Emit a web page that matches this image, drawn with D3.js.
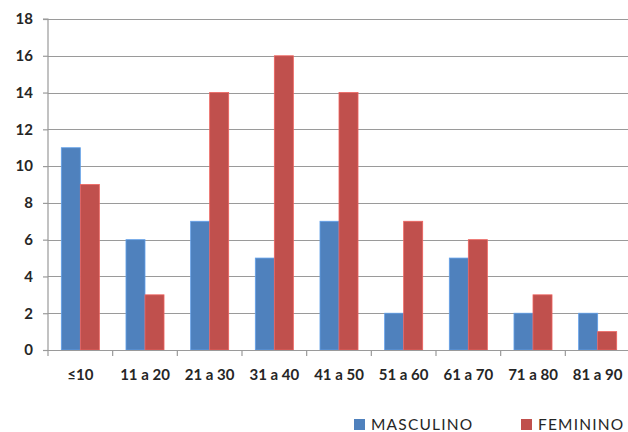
<!DOCTYPE html>
<html>
<head>
<meta charset="utf-8">
<script src="https://cdn.jsdelivr.net/npm/d3@7"></script>
<style>
  html, body { margin: 0; padding: 0; background: #fff; overflow: hidden; }
  svg { display: block; }
</style>
</head>
<body>
<svg id="chart" width="628" height="432"></svg>
<script>
// Age groups and counts per sex
const categories = ["≤10", "11 a 20", "21 a 30", "31 a 40", "41 a 50", "51 a 60", "61 a 70", "71 a 80", "81 a 90"];
const seriesNames = ["MASCULINO", "FEMININO"];
const masculino = [11, 6, 7, 5, 7, 2, 5, 2, 2];
const feminino = [9, 3, 14, 16, 14, 7, 6, 3, 1];
const yTicks = [0, 2, 4, 6, 8, 10, 12, 14, 16, 18];

const colors = { MASCULINO: "#4f81bd", FEMININO: "#c0504d" };
const values = { MASCULINO: masculino, FEMININO: feminino };

const svg = d3.select("#chart");
const W = 628, H = 432;
const plot = { left: 48, right: 630, top: 19, bottom: 350 };
const font = "Lato, 'Open Sans', sans-serif";

const x = d3.scaleBand().domain(categories).range([plot.left, plot.right]).paddingInner(0).paddingOuter(0);
const inner = d3.scaleBand().domain(seriesNames).range([0, x.bandwidth()]).paddingInner(0).paddingOuter(0.7);
const y = d3.scaleLinear().domain([0, 18]).range([plot.bottom, plot.top]);

// Horizontal gridlines
svg.append("g")
  .selectAll("line")
  .data(yTicks.filter(d => d > 0))
  .join("line")
  .attr("x1", plot.left).attr("x2", W)
  .attr("y1", d => Math.round(y(d)) + 0.5).attr("y2", d => Math.round(y(d)) + 0.5)
  .attr("stroke", "#9a9a9a").attr("stroke-width", 1.2);

// Bars
const groups = svg.append("g")
  .selectAll("g")
  .data(categories)
  .join("g")
  .attr("transform", d => `translate(${x(d)},0)`);

groups.selectAll("rect")
  .data((c, i) => seriesNames.map(s => ({ s, v: values[s][i] })))
  .join("rect")
  .attr("x", d => inner(d.s))
  .attr("width", inner.bandwidth())
  .attr("y", d => y(d.v))
  .attr("height", d => y(0) - y(d.v))
  .attr("fill", d => colors[d.s])
  .attr("stroke", d => d3.color(colors[d.s]).brighter(0.6))
  .attr("stroke-width", 0.8);

// Y axis
const yAxis = d3.axisLeft(y).tickValues(yTicks).tickSize(5).tickPadding(10).tickFormat(d3.format("d"));
const gy = svg.append("g").attr("transform", `translate(${plot.left},0)`).call(yAxis);
gy.select(".domain").attr("stroke", "#9a9a9a").attr("stroke-width", 1.2).attr("d", `M-5,${plot.top}H0V${plot.bottom}`);
gy.selectAll(".tick line").attr("stroke", "#9a9a9a").attr("stroke-width", 1.2);
gy.selectAll(".tick text")
  .attr("fill", "#262626")
  .style("font-family", font).style("font-size", "15px").style("font-weight", "bold");

// X axis with ticks at band boundaries
const gx = svg.append("g").attr("transform", `translate(0,${plot.bottom})`);
gx.append("line")
  .attr("x1", plot.left - 5).attr("x2", W)
  .attr("y1", 0.5).attr("y2", 0.5)
  .attr("stroke", "#9a9a9a").attr("stroke-width", 1.2);
gx.selectAll("line.tick")
  .data(categories.map(c => x(c)).concat([x(categories[categories.length - 1]) + x.bandwidth()]))
  .join("line")
  .attr("class", "tick")
  .attr("x1", d => d).attr("x2", d => d)
  .attr("y1", 0).attr("y2", 6)
  .attr("stroke", "#9a9a9a").attr("stroke-width", 1.2);
gx.selectAll("text")
  .data(categories)
  .join("text")
  .attr("x", d => x(d) + x.bandwidth() / 2)
  .attr("y", 30)
  .attr("text-anchor", "middle")
  .attr("fill", "#262626")
  .style("font-family", font).style("font-size", "15px").style("font-weight", "bold")
  .text(d => d);

// Legend
const legendPos = { MASCULINO: 354, FEMININO: 521 };
const legend = svg.append("g");
seriesNames.forEach(s => {
  const g = legend.append("g").attr("transform", `translate(${legendPos[s]},419)`);
  g.append("rect").attr("width", 11).attr("height", 11).attr("fill", colors[s]);
  g.append("text")
    .attr("x", 17).attr("y", 10.5)
    .attr("fill", "#262626")
    .style("font-family", font).style("font-size", "15.5px").style("letter-spacing", "1.2px")
    .text(s);
});
</script>
</body>
</html>
